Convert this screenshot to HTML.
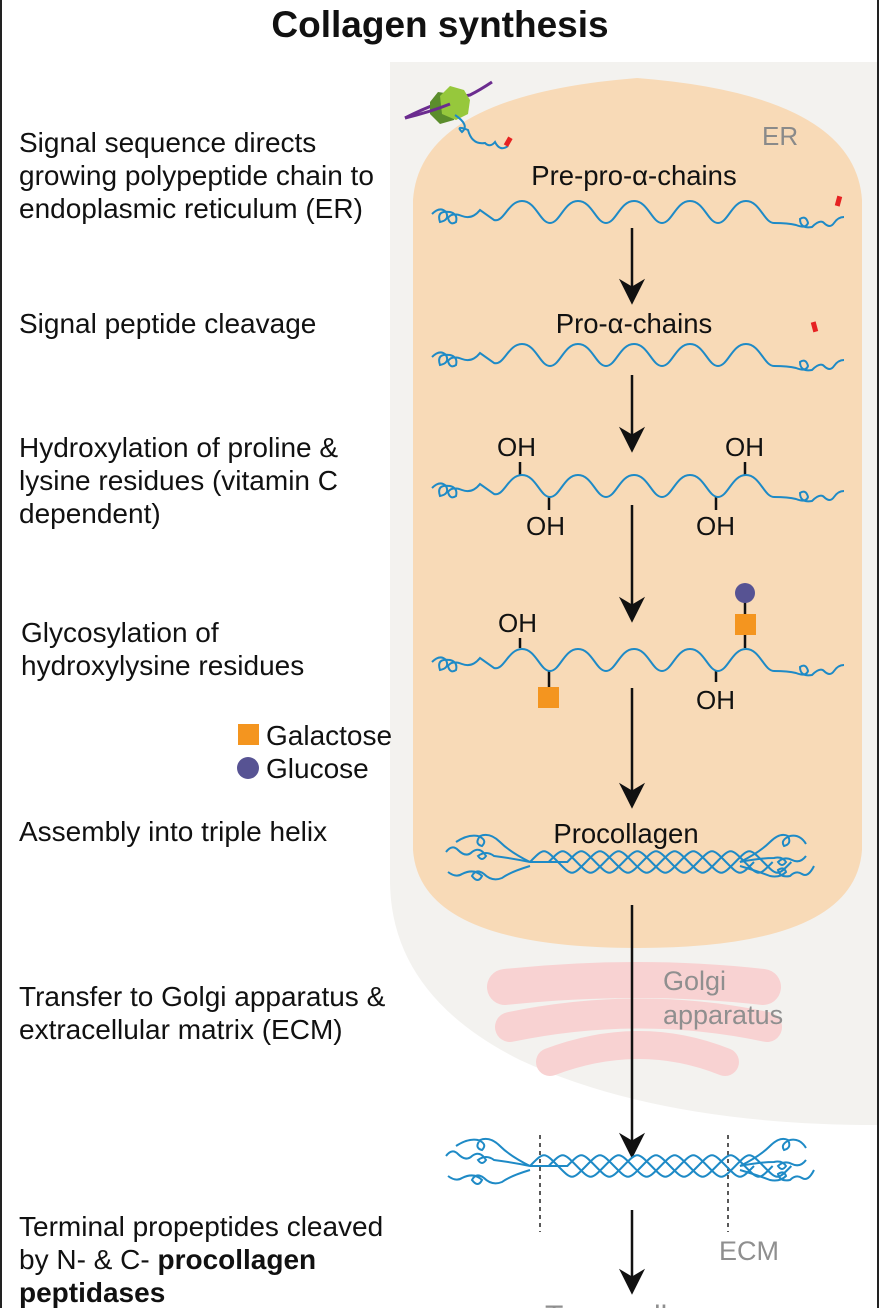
<!DOCTYPE html>
<html><head><meta charset="utf-8"><style>
html,body{margin:0;padding:0;background:#fff}
body{width:880px;height:1308px;overflow:hidden;position:relative;font-family:"Liberation Sans",Arial,sans-serif}
.l{position:absolute;left:19px;font-size:28px;line-height:33px;color:#111;white-space:nowrap}
svg{position:absolute;left:0;top:0}
</style></head><body>
<svg id="s" width="880" height="1308" viewBox="0 0 880 1308" xmlns="http://www.w3.org/2000/svg" font-family="Liberation Sans, Arial, sans-serif">
<line x1="1" y1="0" x2="1" y2="1308" stroke="#222" stroke-width="2"/>
<line x1="878" y1="0" x2="878" y2="1308" stroke="#222" stroke-width="2"/>
<path d="M390 62 H877 V1125 Q660 1125 520 1060 Q390 995 390 880 Z" fill="#f3f2ef"/>
<path d="M413 200 Q420 95 637 78 Q855 95 862 200 V850 Q855 948 637 948 Q420 948 413 850 Z" fill="#f8dab7"/>
<g fill="none" stroke="#f8d2d2" stroke-linecap="round">
<path d="M505 987 Q640 973 763 987" stroke-width="36"/>
<path d="M510 1027 Q640 1000 767 1027" stroke-width="30"/>
<path d="M550 1062 Q640 1028 725 1062" stroke-width="28"/>
</g>
<text x="440" y="37" text-anchor="middle" font-size="37" font-weight="bold" fill="#111">Collagen synthesis</text>
<text x="762" y="145" font-size="26" fill="#8a8a8a">ER</text>
<text x="634" y="185" text-anchor="middle" font-size="27.5" fill="#111">Pre-pro-α-chains</text>
<text x="634" y="333" text-anchor="middle" font-size="27.5" fill="#111">Pro-α-chains</text>
<text x="626" y="843" text-anchor="middle" font-size="27.5" fill="#111">Procollagen</text>
<text x="663" y="990" font-size="27" fill="#8f8f8f">Golgi</text>
<text x="663" y="1024" font-size="27" fill="#8f8f8f">apparatus</text>
<text x="719" y="1260" font-size="27" fill="#8f8f8f">ECM</text>
<g font-size="26" fill="#111">
<text x="497" y="456">OH</text><text x="725" y="456">OH</text>
<text x="526" y="535">OH</text><text x="696" y="535">OH</text>
<text x="498" y="632">OH</text><text x="696" y="709">OH</text>
</g>
<g stroke="#111" stroke-width="2.5">
<line x1="520" y1="462" x2="520" y2="475"/><line x1="745" y1="462" x2="745" y2="475"/>
<line x1="549" y1="497" x2="549" y2="510"/><line x1="716" y1="497" x2="716" y2="510"/>
<line x1="520" y1="638" x2="520" y2="648"/><line x1="549" y1="670" x2="549" y2="688"/>
<line x1="716" y1="670" x2="716" y2="682"/><line x1="745" y1="598" x2="745" y2="648"/>
</g>
<rect x="538" y="687" width="21" height="21" fill="#f4951f"/>
<rect x="735" y="614" width="21" height="21" fill="#f4951f"/>
<circle cx="745" cy="593" r="10" fill="#575393"/>
<rect x="238" y="724" width="21" height="21" fill="#f4951f"/>
<circle cx="248" cy="768" r="11" fill="#575393"/>
<g stroke="#222" stroke-dasharray="4,4" stroke-width="1.5">
<line x1="540" y1="1135" x2="540" y2="1232"/><line x1="728" y1="1135" x2="728" y2="1232"/>
</g>
<g id="arrows" stroke="#111" stroke-width="2.5" fill="#111"></g>
<g id="chains" fill="none" stroke="#1e8ac6" stroke-width="2"></g>
<path d="M405 118 Q440 100 470 95 Q480 90 492 82" stroke="#6b2c8f" stroke-width="3" fill="none"/>
<path d="M430 102 l8 -10 l14 2 l6 12 l-4 14 l-14 4 l-10 -10z" fill="#5b8d2c"/>
<path d="M440 96 l10 -10 l14 4 l6 10 l-2 14 l-12 6 l-14 -6 z" fill="#96c83c"/>
<path d="M405 118 Q430 112 450 104" stroke="#6b2c8f" stroke-width="3" fill="none"/>
<path d="M455 115 Q470 125 462 132 Q455 125 468 130 Q472 145 485 143 Q490 148 495 142 Q500 152 508 146" fill="none" stroke="#1e8ac6" stroke-width="2"/>
<rect x="506" y="137" width="5" height="9" fill="#e62222" transform="rotate(30 508 141)"/>
<rect x="836" y="196" width="5" height="10" fill="#e62222" transform="rotate(15 838 201)"/>
<rect x="812" y="322" width="5" height="10" fill="#e62222" transform="rotate(-15 814 327)"/>
<text x="545" y="1326" font-size="30" fill="#8f8f8f">Tropocollagen</text>
</svg>
<div class="l" style="top:126px">Signal sequence directs<br>growing polypeptide chain to<br>endoplasmic reticulum (ER)</div>
<div class="l" style="top:307px">Signal peptide cleavage</div>
<div class="l" style="top:431px">Hydroxylation of proline &amp;<br>lysine residues (vitamin C<br>dependent)</div>
<div class="l" style="top:616px;left:21px">Glycosylation of<br>hydroxylysine residues</div>
<div class="l" style="top:719px;left:266px">Galactose</div>
<div class="l" style="top:752px;left:266px">Glucose</div>
<div class="l" style="top:815px">Assembly into triple helix</div>
<div class="l" style="top:980px">Transfer to Golgi apparatus &amp;<br>extracellular matrix (ECM)</div>
<div class="l" style="top:1210px">Terminal propeptides cleaved<br>by N- &amp; C- <b>procollagen<br>peptidases</b></div>
<script>
var NS="http://www.w3.org/2000/svg";
function el(g,tag,a){var e=document.createElementNS(NS,tag);for(var k in a)e.setAttribute(k,a[k]);document.getElementById(g).appendChild(e);return e;}
[[228,302],[375,450],[505,620],[688,806],[905,1156],[1210,1292]].forEach(function(a){
 el("arrows","line",{x1:632,y1:a[0],x2:632,y2:a[1]-14});
 el("arrows","path",{d:"M622 "+(a[1]-20)+" L632 "+a[1]+" L642 "+(a[1]-20)+" L632 "+(a[1]-14)+" Z"});
});
function chain(cy){
 var d="M432 "+(cy+2)+" q8 -8 14 -2 q4 8 -6 10 q-4 -12 10 -10 q8 2 6 10 q-6 4 -8 -4 q4 -6 14 -2 q10 4 18 -6 L494 "+(cy+8);
 var x=494,A=11;
 for(var k=0;k<5;k++){d+=" C"+(x+10)+" "+(cy+A)+" "+(x+14)+" "+(cy-A)+" "+(x+28)+" "+(cy-A);
  d+=" C"+(x+42)+" "+(cy-A)+" "+(x+46)+" "+(cy+A)+" "+(x+56)+" "+(cy+A);x+=56;}
 d+=" q14 0 22 2 q10 4 12 -2 q-2 -8 -8 -4 q0 10 12 8 q8 -8 12 -4 q6 6 10 0 q4 -6 10 -6";
 el("chains","path",{d:d});
}
[212,355,486,660].forEach(chain);
function helix(cy){
 var P=56,A=11;
 for(var p=0;p<3;p++){var x0=530+p*P/3;
  var d="M"+(x0-P/3*p)+" "+cy+" L"+x0+" "+cy;
  for(var x=x0;x<736;x+=P){d+=" C"+(x+P/4)+" "+(cy-A*1.3)+" "+(x+P/4)+" "+(cy-A*1.3)+" "+(x+P/2)+" "+cy+" C"+(x+3*P/4)+" "+(cy+A*1.3)+" "+(x+3*P/4)+" "+(cy+A*1.3)+" "+(x+P)+" "+cy;}
  el("chains","path",{d:d});}
 var L=["M530 "+cy+" q-20 -10 -30 -20 q-10 -10 -20 -6 q-6 8 2 10 q6 -6 -4 -10 q-10 -2 -22 6",
 "M530 "+cy+" q-20 -4 -36 -6 q-8 -6 -16 0 q4 6 8 0 q-6 -10 -14 -4 q-6 6 -14 -2 q-6 -6 -12 2",
 "M530 "+(cy+4)+" q-20 6 -28 12 q-10 4 -18 -4 q-8 -6 -12 2 q6 8 10 0 q-8 -8 -20 -2 q-6 4 -14 -2",
 "M740 "+cy+" q20 -10 30 -20 q10 -10 18 -6 q4 8 -4 10 q-4 -6 6 -10 q10 -2 16 8",
 "M740 "+cy+" q20 -4 34 -4 q8 -2 12 4 q-4 6 -8 0 q6 -6 14 -2 q8 4 14 -4",
 "M740 "+(cy+4)+" q20 6 30 10 q10 2 16 -4 q-2 -6 -8 -2 q2 8 12 6 q6 -6 12 -2 q6 4 12 -8"];
 L.forEach(function(d){el("chains","path",{d:d});});
}
helix(862);helix(1166);
</script>
</body></html>
